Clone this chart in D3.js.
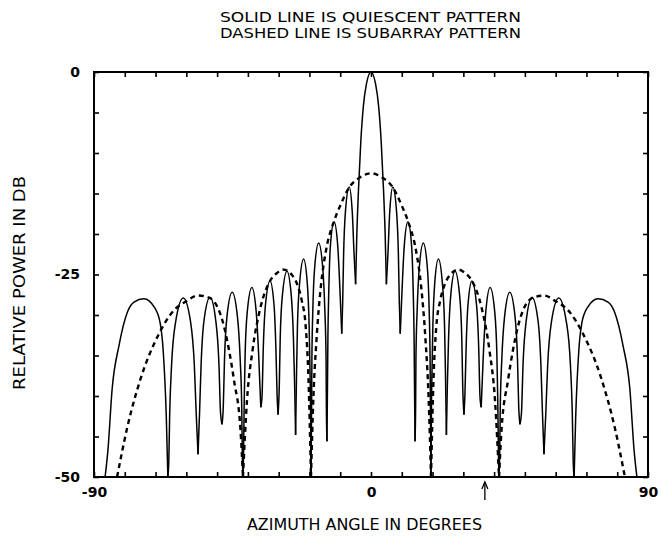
<!DOCTYPE html>
<html>
<head>
<meta charset="utf-8">
<script src="https://cdn.jsdelivr.net/npm/d3@7"></script>
<style>
  body { margin: 0; background: #fff; }
  text { font-family: "DejaVu Sans", "Liberation Sans", sans-serif; fill: #000; }
</style>
</head>
<body>
<div id="chart"></div>
<script>
// quiescent pattern (solid) -- angle in degrees, relative power in dB
var solidDeg = [-86.4, -85.5, -84.1, -81.9, -79.0, -77.0, -73.8, -70.3, -68.5, -67.5, -66.5, -66.0,
  -65.7, -65.4, -64.8, -63.5, -61.0, -58.6, -57.4, -56.8, -56.2,
  -55.7, -55.2, -54.3, -52.3, -50.4, -49.4, -48.9, -48.4,
  -48.0, -47.6, -46.8, -45.1, -43.4, -42.5, -42.0, -41.8, -41.6,
  -41.4, -41.2, -40.9, -40.2, -38.7, -37.3, -36.5, -35.8,
  -35.4, -35.0, -34.3, -32.8, -31.5, -30.9, -30.5, -30.2,
  -29.8, -29.5, -28.8, -27.3, -25.9, -25.2, -24.8, -24.5,
  -24.2, -23.9, -23.2, -21.9, -20.7, -20.1, -19.8, -19.6, -19.5,
  -19.3, -19.2, -18.9, -18.3, -17.0, -15.7, -15.0, -14.6, -14.5, -14.3,
  -14.0, -13.7, -13.2, -12.0, -10.8, -10.1, -9.5,
  -9.2, -8.9, -8.3, -7.1, -6.1, -5.5, -5.0,
  -4.6, -4.05, -3.3, -2.5, -1.5, 0, 1.5, 2.5, 3.3, 4.05, 4.6,
  5.0, 5.5, 6.1, 7.1, 8.3, 8.9, 9.2,
  9.5, 10.1, 10.8, 12.0, 13.2, 13.7, 14.0,
  14.3, 14.5, 14.6, 15.0, 15.7, 17.0, 18.3, 18.9, 19.2, 19.3,
  19.5, 19.6, 19.8, 20.1, 20.7, 21.9, 23.2, 23.9, 24.2,
  24.5, 24.8, 25.2, 25.9, 27.3, 28.8, 29.5, 29.8,
  30.2, 30.5, 30.9, 31.5, 32.8, 34.3, 35.0, 35.4,
  35.8, 36.5, 37.3, 38.7, 40.2, 40.9, 41.2, 41.4,
  41.6, 41.8, 42.0, 42.5, 43.4, 45.1, 46.8, 47.6, 48.0,
  48.4, 48.9, 49.4, 50.4, 52.3, 54.3, 55.2, 55.7,
  56.2, 56.8, 57.4, 58.6, 61.0, 63.5, 64.8, 65.4, 65.7,
  66.0, 66.5, 67.5, 68.5, 70.3, 73.8, 77.0, 79.0, 81.9, 84.1, 85.5, 86.4];
var solidDb = [-50, -46.8, -39.1, -33.8, -29.5, -28.4, -28.0, -29.1, -31.0, -34.5, -42.7, -50,
  -48.1, -42.1, -36.2, -30.9, -27.9, -30.9, -36.2, -42.1, -47.2,
  -42.0, -36.1, -30.8, -27.8, -30.8, -36.1, -42.0, -43.5,
  -41.4, -35.5, -30.2, -27.2, -30.2, -35.5, -41.4, -47.4, -50,
  -46.8, -40.8, -34.9, -29.6, -26.6, -29.6, -34.9, -41.4,
  -40.0, -34.1, -28.8, -25.8, -28.8, -34.1, -40.0, -42.3,
  -38.8, -32.9, -27.6, -24.6, -27.6, -32.9, -38.8, -44.8,
  -37.3, -31.4, -26.1, -23.1, -26.1, -31.4, -37.3, -43.3, -50,
  -41.3, -35.3, -29.4, -24.1, -21.1, -24.1, -29.4, -35.3, -41.3, -45.6,
  -32.7, -26.8, -21.5, -18.5, -21.5, -26.8, -32.3,
  -28.4, -22.5, -17.2, -14.2, -17.2, -22.5, -26.2,
  -20.0, -14.4, -8.5, -4.3, -1.5, 0, -1.5, -4.3, -8.5, -14.4, -20.0,
  -26.2, -22.5, -17.2, -14.2, -17.2, -22.5, -28.4,
  -32.3, -26.8, -21.5, -18.5, -21.5, -26.8, -32.7,
  -45.6, -41.3, -35.3, -29.4, -24.1, -21.1, -24.1, -29.4, -35.3, -41.3,
  -50, -43.3, -37.3, -31.4, -26.1, -23.1, -26.1, -31.4, -37.3,
  -44.8, -38.8, -32.9, -27.6, -24.6, -27.6, -32.9, -38.8,
  -42.3, -40.0, -34.1, -28.8, -25.8, -28.8, -34.1, -40.0,
  -41.4, -34.9, -29.6, -26.6, -29.6, -34.9, -40.8, -46.8,
  -50, -47.4, -41.4, -35.5, -30.2, -27.2, -30.2, -35.5, -41.4,
  -43.5, -42.0, -36.1, -30.8, -27.8, -30.8, -36.1, -42.0,
  -47.2, -42.1, -36.2, -30.9, -27.9, -30.9, -36.2, -42.1, -48.1,
  -50, -42.7, -34.5, -31.0, -29.1, -28.0, -28.4, -29.5, -33.8, -39.1, -46.8, -50];

// subarray pattern (dashed)
var dashDeg = [-82.5, -79.2, -74.8, -69.0, -64.0, -60.0, -56.2, -52.4, -47.7, -44.5, -42.4, -41.6,
  -40.3, -38.5, -36.0, -32.8, -30.5, -28.4, -25.8, -24.0, -22.5, -21.2, -20.3, -19.5,
  -18.7, -17.7, -16.3, -14.6, -12.0, -10.0, -7.0, -3.5, 0, 3.5, 7.0, 10.0, 12.0, 14.6, 16.3, 17.7, 18.7,
  19.5, 20.3, 21.2, 22.5, 24.0, 25.8, 28.4, 30.5, 32.8, 36.0, 38.5, 40.3,
  41.6, 42.4, 44.5, 47.7, 52.4, 56.2, 60.0, 64.0, 69.0, 74.8, 79.2, 82.5];
var dashDb = [-50, -43.9, -37.8, -32.4, -29.4, -28.3, -27.6, -27.9, -31.5, -38.1, -44.2, -50,
  -40.6, -34.4, -29.2, -25.8, -24.8, -24.4, -25.0, -26.2, -28.2, -31.5, -38.0, -50,
  -40.0, -33.0, -26.5, -22.0, -18.4, -16.5, -14.2, -13.0, -12.5, -13.0, -14.2, -16.5, -18.4, -22.0, -26.5, -33.0, -40.0,
  -50, -38.0, -31.5, -28.2, -26.2, -25.0, -24.4, -24.8, -25.8, -29.2, -34.4, -40.6,
  -50, -44.2, -38.1, -31.5, -27.9, -27.6, -28.3, -29.4, -32.4, -37.8, -43.9, -50];

var xTicks = [-90, -80, -70, -60, -50, -40, -30, -20, -10, 0, 10, 20, 30, 40, 50, 60, 70, 80, 90];
var yTicks = [0, -5, -10, -15, -20, -25, -30, -35, -40, -45, -50];
var xLabels = [-90, 0, 90];
var yLabels = [0, -25, -50];
var jammerDeg = 37;

var titleLines = ['SOLID LINE IS QUIESCENT PATTERN', 'DASHED LINE IS SUBARRAY PATTERN'];
var xTitle = 'AZIMUTH ANGLE IN DEGREES';
var yTitle = 'RELATIVE POWER IN DB';

var width = 661, height = 537;
var plotL = 94, plotR = 648, plotT = 72, plotB = 477;

var svg = d3.select('#chart').append('svg')
  .attr('width', width)
  .attr('height', height);

var x = d3.scaleLinear().domain([-90, 90]).range([plotL, plotR]);
var y = d3.scaleLinear().domain([-50, 0]).range([plotB, plotT]);

svg.append('clipPath').attr('id', 'plot')
  .append('rect')
  .attr('x', plotL).attr('y', plotT - 2)
  .attr('width', plotR - plotL).attr('height', plotB - plotT + 2);

// axes, ticks pointing inward
function fmt(list) {
  return function (d) { return list.indexOf(d) >= 0 ? d : ''; };
}

svg.append('g')
  .attr('transform', 'translate(0,' + plotB + ')')
  .call(d3.axisBottom(x).tickValues(xTicks).tickSizeInner(-5).tickSizeOuter(0).tickPadding(10).tickFormat(fmt(xLabels)));
svg.append('g')
  .attr('transform', 'translate(0,' + plotT + ')')
  .call(d3.axisTop(x).tickValues(xTicks).tickSizeInner(-5).tickSizeOuter(0).tickFormat(''));
svg.append('g')
  .attr('transform', 'translate(' + plotL + ',0)')
  .call(d3.axisLeft(y).tickValues(yTicks).tickSizeInner(-5).tickSizeOuter(0).tickPadding(14).tickFormat(fmt(yLabels)));
svg.append('g')
  .attr('transform', 'translate(' + plotR + ',0)')
  .call(d3.axisRight(y).tickValues(yTicks).tickSizeInner(-5).tickSizeOuter(0).tickFormat(''));

svg.selectAll('.domain').remove();
svg.selectAll('.tick line').attr('stroke', '#000').attr('stroke-width', 1.6);
svg.selectAll('.tick text')
  .style('font-size', '14px')
  .style('font-weight', 'bold')
  .style('font-family', '"DejaVu Sans", sans-serif');

svg.append('rect')
  .attr('x', plotL).attr('y', plotT)
  .attr('width', plotR - plotL).attr('height', plotB - plotT)
  .attr('fill', 'none')
  .attr('stroke', '#000')
  .attr('stroke-width', 2);

// split a pattern into lobes at its nulls so the nulls stay sharp
function lobes(degs, dbs) {
  var pts = degs.map(function (d, i) { return [d, dbs[i]]; });
  var out = [], cur = [pts[0]];
  for (var i = 1; i < pts.length; i++) {
    cur.push(pts[i]);
    if (i < pts.length - 1 && pts[i][1] < pts[i - 1][1] && pts[i][1] < pts[i + 1][1]) {
      out.push(cur);
      cur = [pts[i]];
    }
  }
  out.push(cur);
  return out;
}

var line = d3.line()
  .x(function (d) { return x(d[0]); })
  .y(function (d) { return y(d[1]); })
  .curve(d3.curveMonotoneX);

var plot = svg.append('g').attr('clip-path', 'url(#plot)');

plot.selectAll('.solid')
  .data(lobes(solidDeg, solidDb))
  .enter().append('path')
  .attr('class', 'solid')
  .attr('d', line)
  .attr('fill', 'none')
  .attr('stroke', '#000')
  .attr('stroke-width', 1.5);

plot.append('path')
  .attr('d', lobes(dashDeg, dashDb).map(function (l) { return line(l); }).join(''))
  .attr('fill', 'none')
  .attr('stroke', '#000')
  .attr('stroke-width', 2.4)
  .attr('stroke-dasharray', '5,4');

// arrow under the axis
var ax = x(jammerDeg);
svg.append('line')
  .attr('x1', ax).attr('x2', ax)
  .attr('y1', 500).attr('y2', 483)
  .attr('stroke', '#000').attr('stroke-width', 1.3);
svg.append('path')
  .attr('d', 'M' + (ax - 3) + ',489L' + ax + ',482L' + (ax + 3) + ',489')
  .attr('fill', 'none').attr('stroke', '#000').attr('stroke-width', 1.3);

// titles
svg.selectAll('.title')
  .data(titleLines)
  .enter().append('text')
  .attr('x', 220)
  .attr('y', function (d, i) { return 21.5 + i * 16; })
  .attr('textLength', 301)
  .attr('lengthAdjust', 'spacingAndGlyphs')
  .style('font-size', '14px')
  .text(function (d) { return d; });

svg.append('text')
  .attr('x', 247).attr('y', 530)
  .attr('textLength', 235)
  .attr('lengthAdjust', 'spacingAndGlyphs')
  .style('font-size', '15px')
  .text(xTitle);

svg.append('text')
  .attr('transform', 'translate(25,283) rotate(-90)')
  .attr('text-anchor', 'middle')
  .attr('textLength', 214)
  .attr('lengthAdjust', 'spacingAndGlyphs')
  .style('font-size', '15px')
  .text(yTitle);
</script>
</body>
</html>
